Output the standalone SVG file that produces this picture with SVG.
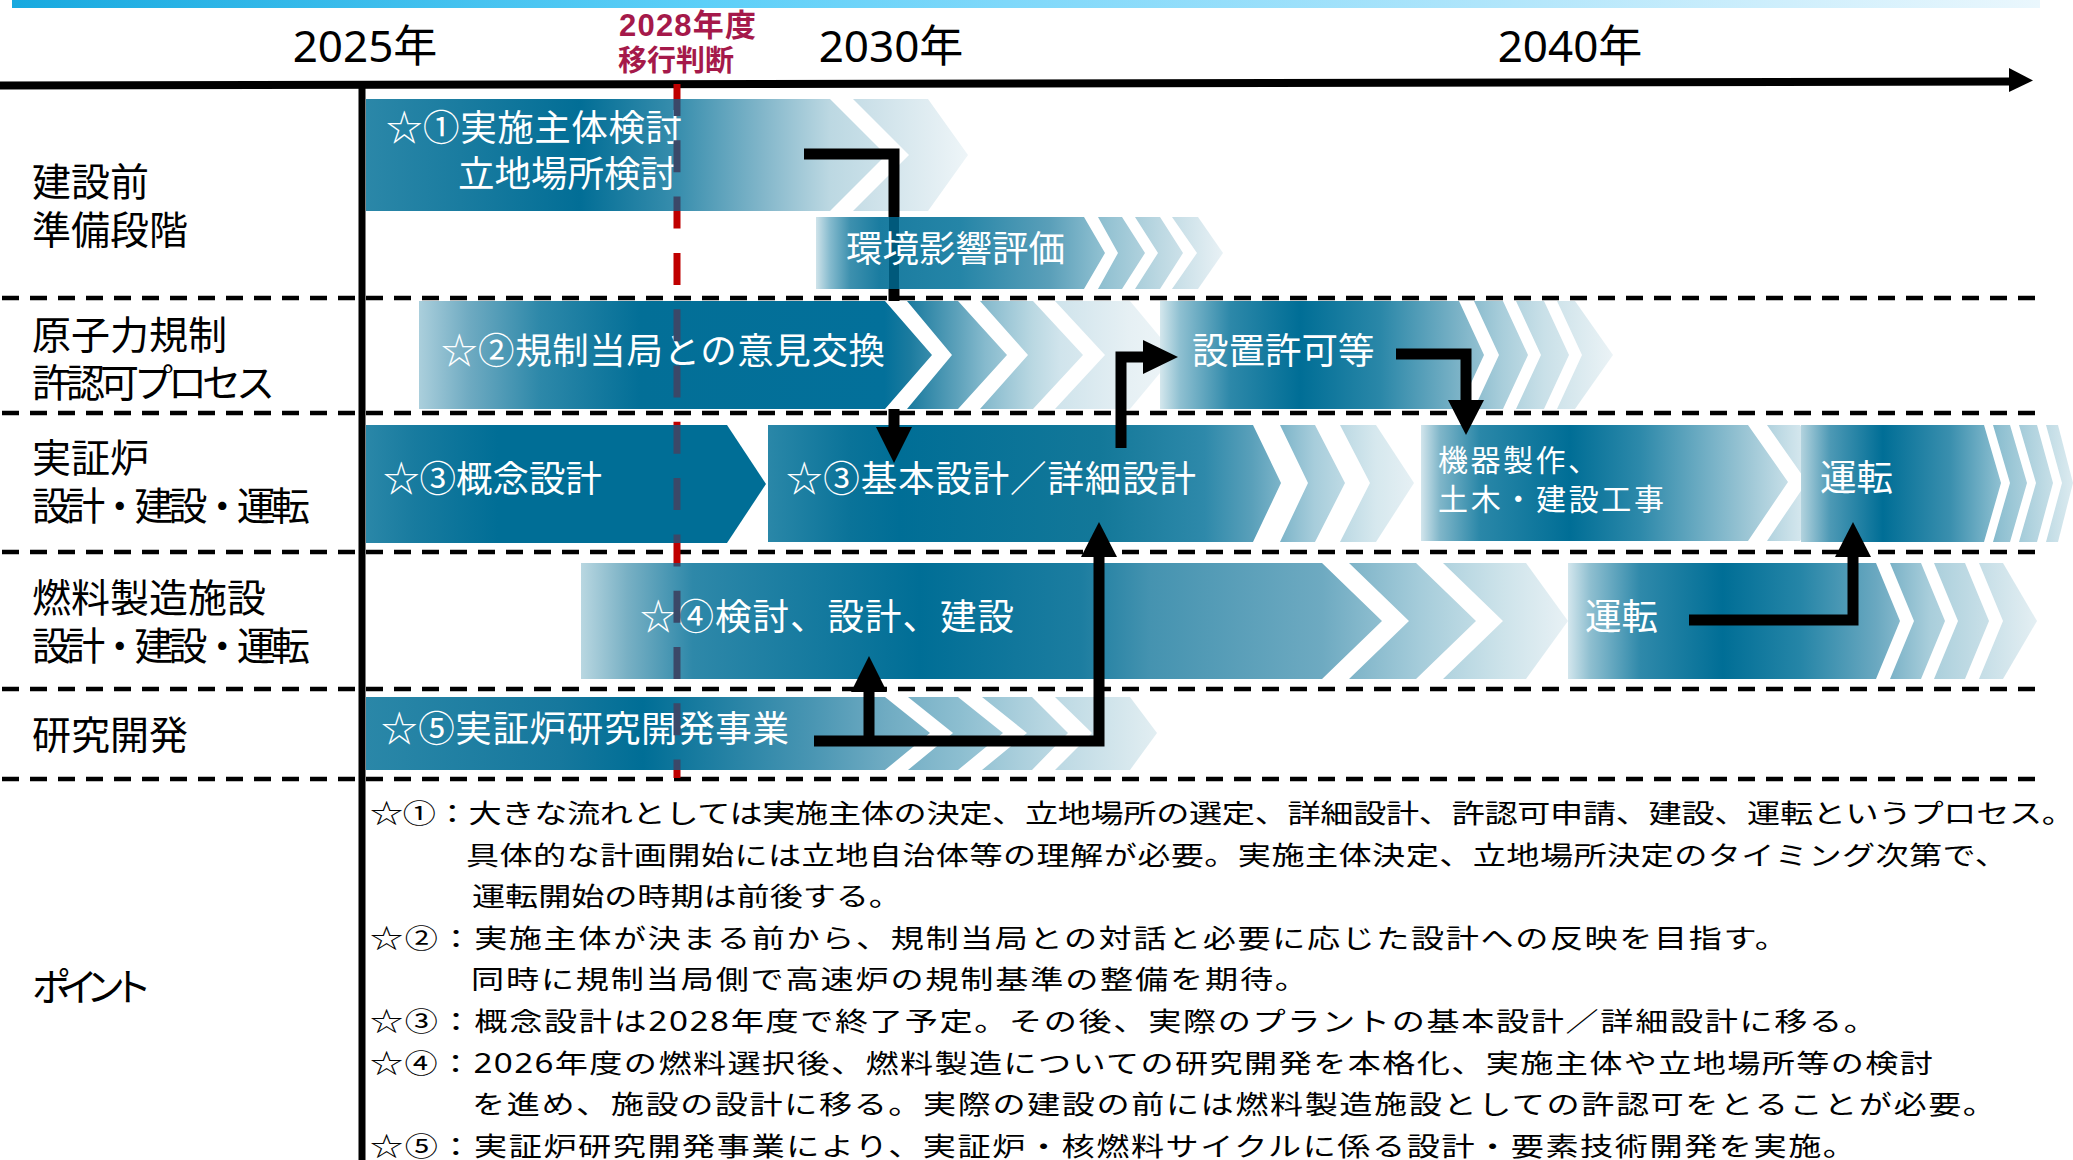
<svg xmlns="http://www.w3.org/2000/svg" width="2073" height="1160" viewBox="0 0 2073 1160">
<defs>
<style>
text{font-family:"Noto Sans","Noto Sans CJK JP",sans-serif}
.yr{font-size:44px;fill:#000}
.lbl{font-size:39px;fill:#000}
.bt{font-size:36.5px;fill:#fff}
.bs{font-size:30px;fill:#fff}
.nt{font-size:26.5px;fill:#000}
.red{fill:#A5194A;font-weight:bold;font-family:"Liberation Sans","Noto Sans CJK JP",sans-serif}
.sep{stroke:#000;stroke-width:4.5;stroke-dasharray:17 11;fill:none}
.stripe{fill:#fff}
.conn{fill:none;stroke:#000;stroke-width:11;stroke-linejoin:miter}
.head{fill:#000}
</style>
<linearGradient id="gTop" gradientUnits="userSpaceOnUse" x1="12" y1="0" x2="2040" y2="0">
<stop offset="0" stop-color="#18a9df"/><stop offset="0.34" stop-color="#5ccff8"/><stop offset="0.49" stop-color="#7fd8fa"/><stop offset="0.74" stop-color="#b2e6fb"/><stop offset="1" stop-color="#eaf7fd"/>
</linearGradient>
<linearGradient id="g1" gradientUnits="userSpaceOnUse" x1="366" y1="0" x2="886" y2="0">
<stop offset="0" stop-color="#2b87a8"/><stop offset="0.181" stop-color="#1a7ca0"/><stop offset="0.412" stop-color="#026e96"/><stop offset="0.604" stop-color="#3a8fae"/><stop offset="0.758" stop-color="#80b5c9"/><stop offset="0.892" stop-color="#bcd8e2"/><stop offset="1" stop-color="#cde2ea"/>
</linearGradient>
<linearGradient id="g1b" gradientUnits="userSpaceOnUse" x1="853" y1="0" x2="968" y2="0">
<stop offset="0" stop-color="#c6dde6"/><stop offset="1" stop-color="#eef5f8"/>
</linearGradient>
<linearGradient id="gEnv" gradientUnits="userSpaceOnUse" x1="816" y1="0" x2="1223" y2="0">
<stop offset="0" stop-color="#cfe3ea"/><stop offset="0.034" stop-color="#86bbce"/><stop offset="0.084" stop-color="#3d90ae"/><stop offset="0.157" stop-color="#1a7ca0"/><stop offset="0.354" stop-color="#2585a7"/><stop offset="0.575" stop-color="#5a9fb9"/><stop offset="0.698" stop-color="#8ebfd0"/><stop offset="0.845" stop-color="#bcd8e2"/><stop offset="1" stop-color="#e8f1f5"/>
</linearGradient>
<linearGradient id="g2" gradientUnits="userSpaceOnUse" x1="419" y1="0" x2="1175" y2="0">
<stop offset="0" stop-color="#abcfdc"/><stop offset="0.067" stop-color="#6eaac1"/><stop offset="0.16" stop-color="#2d88a9"/><stop offset="0.292" stop-color="#036f97"/><stop offset="0.616" stop-color="#03709a"/><stop offset="0.649" stop-color="#1b7b9f"/><stop offset="0.713" stop-color="#5ea2bb"/><stop offset="0.749" stop-color="#86bacd"/><stop offset="0.812" stop-color="#bad8e2"/><stop offset="0.848" stop-color="#d0e4ec"/><stop offset="0.94" stop-color="#e6f0f4"/><stop offset="1" stop-color="#eef5f8"/>
</linearGradient>
<linearGradient id="gPermit" gradientUnits="userSpaceOnUse" x1="1160" y1="0" x2="1613" y2="0">
<stop offset="0" stop-color="#d4e7ed"/><stop offset="0.044" stop-color="#8fc0d1"/><stop offset="0.155" stop-color="#2d88a9"/><stop offset="0.309" stop-color="#006e96"/><stop offset="0.486" stop-color="#2a87a8"/><stop offset="0.66" stop-color="#7cb3c7"/><stop offset="0.757" stop-color="#a9cedb"/><stop offset="0.848" stop-color="#c9e0e8"/><stop offset="1" stop-color="#ebf3f6"/>
</linearGradient>
<linearGradient id="g3a" gradientUnits="userSpaceOnUse" x1="366" y1="0" x2="766" y2="0">
<stop offset="0" stop-color="#2a87a8"/><stop offset="0.12" stop-color="#187b9f"/><stop offset="0.33" stop-color="#006e96"/><stop offset="1" stop-color="#006e96"/>
</linearGradient>
<linearGradient id="g3b" gradientUnits="userSpaceOnUse" x1="768" y1="0" x2="1414" y2="0">
<stop offset="0" stop-color="#2a87a8"/><stop offset="0.127" stop-color="#0a7399"/><stop offset="0.204" stop-color="#006e96"/><stop offset="0.514" stop-color="#137899"/><stop offset="0.676" stop-color="#2e89aa"/><stop offset="0.75" stop-color="#5aa0ba"/><stop offset="0.846" stop-color="#a7cddb"/><stop offset="0.941" stop-color="#d6e8ee"/><stop offset="1" stop-color="#e6f0f4"/>
</linearGradient>
<linearGradient id="gFab" gradientUnits="userSpaceOnUse" x1="1421" y1="0" x2="1840" y2="0">
<stop offset="0" stop-color="#d2e5ec"/><stop offset="0.045" stop-color="#80b6c9"/><stop offset="0.141" stop-color="#2a87a8"/><stop offset="0.356" stop-color="#006e96"/><stop offset="0.523" stop-color="#2d89aa"/><stop offset="0.778" stop-color="#9cc6d5"/><stop offset="0.905" stop-color="#d3e6ed"/><stop offset="1" stop-color="#e8f1f5"/>
</linearGradient>
<linearGradient id="gOp3" gradientUnits="userSpaceOnUse" x1="1801" y1="0" x2="2073" y2="0">
<stop offset="0" stop-color="#b3d3de"/><stop offset="0.107" stop-color="#4d99b5"/><stop offset="0.301" stop-color="#006e96"/><stop offset="0.548" stop-color="#3a8fae"/><stop offset="0.732" stop-color="#8fc0d1"/><stop offset="1" stop-color="#dcebf0"/>
</linearGradient>
<linearGradient id="g4" gradientUnits="userSpaceOnUse" x1="581" y1="0" x2="1568" y2="0">
<stop offset="0" stop-color="#b9d7e1"/><stop offset="0.047" stop-color="#78b0c4"/><stop offset="0.113" stop-color="#2e88a9"/><stop offset="0.343" stop-color="#006e96"/><stop offset="0.506" stop-color="#1c7da0"/><stop offset="0.577" stop-color="#4593b0"/><stop offset="0.751" stop-color="#6eaac1"/><stop offset="0.85" stop-color="#a5ccda"/><stop offset="0.934" stop-color="#cde3ea"/><stop offset="1" stop-color="#e8f1f5"/>
</linearGradient>
<linearGradient id="gOp4" gradientUnits="userSpaceOnUse" x1="1568" y1="0" x2="2037" y2="0">
<stop offset="0" stop-color="#d3e6ed"/><stop offset="0.047" stop-color="#8fbfd0"/><stop offset="0.154" stop-color="#2f89aa"/><stop offset="0.33" stop-color="#006e96"/><stop offset="0.495" stop-color="#2585a7"/><stop offset="0.657" stop-color="#6aa8c0"/><stop offset="0.772" stop-color="#a9cedb"/><stop offset="1" stop-color="#e4eff3"/>
</linearGradient>
<linearGradient id="g5" gradientUnits="userSpaceOnUse" x1="366" y1="0" x2="1157" y2="0">
<stop offset="0" stop-color="#2a87a8"/><stop offset="0.245" stop-color="#16789d"/><stop offset="0.35" stop-color="#006e96"/><stop offset="0.566" stop-color="#4a96b3"/><stop offset="0.656" stop-color="#6fabc2"/><stop offset="0.75" stop-color="#8cbed0"/><stop offset="0.864" stop-color="#b9d7e2"/><stop offset="1" stop-color="#e2eef2"/>
</linearGradient>
<clipPath id="inBars">
<rect x="660" y="99" width="40" height="112"/>
<rect x="660" y="301" width="40" height="108"/>
<rect x="660" y="425" width="40" height="118"/>
<rect x="660" y="563" width="40" height="116"/>
<rect x="660" y="697" width="40" height="73"/>
</clipPath>
</defs>

<rect x="0" y="0" width="2073" height="1160" fill="#fff"/>

<g id="header">
<rect x="12" y="0" width="2028" height="8" fill="url(#gTop)"/>
<line x1="0" y1="85.5" x2="2012" y2="81.5" stroke="#000" stroke-width="8"/>
<polygon points="2009,68 2033,80.5 2009,92" fill="#000"/>
<text class="yr" x="365" y="62" text-anchor="middle">2025年</text>
<text class="yr" x="891" y="62" text-anchor="middle">2030年</text>
<text class="yr" x="1570" y="62" text-anchor="middle">2040年</text>
<text class="red" x="619" y="36" font-size="31" textLength="137">2028年度</text>
<text class="red" x="618" y="71" font-size="29">移行判断</text>
</g>

<g id="grid">
<line class="sep" x1="2" y1="298" x2="2036" y2="298"/>
<line class="sep" x1="2" y1="413" x2="2036" y2="413"/>
<line class="sep" x1="2" y1="552" x2="2036" y2="552"/>
<line class="sep" x1="2" y1="689" x2="2036" y2="689"/>
<line class="sep" x1="2" y1="779" x2="2036" y2="779"/>
<line x1="362" y1="86" x2="362" y2="1160" stroke="#000" stroke-width="7"/>
</g>

<g id="decision-line">
<line x1="677" y1="84" x2="677" y2="778" stroke="#c00000" stroke-width="7" stroke-dasharray="32 24.3"/>
</g>

<g id="bar1">
<polygon points="366,99 830,99 886,155 830,211 366,211" fill="url(#g1)"/>
<polygon points="853,99 928,99 968,155 928,211 853,211 909,155" fill="url(#g1b)"/>
<text class="bt" x="386" y="141" textLength="296">☆①実施主体検討</text>
<text class="bt" x="458" y="187">立地場所検討</text>
</g>

<g id="env">
<polygon points="816,217 1198,217 1223,253 1198,289 816,289" fill="url(#gEnv)"/>
<polygon class="stripe" points="1084,217 1098,217 1118,253 1098,289 1084,289 1105,253"/>
<polygon class="stripe" points="1122,217 1135,217 1158,253 1135,289 1122,289 1145,253"/>
<polygon class="stripe" points="1160,217 1172,217 1197,253 1172,289 1160,289 1183,253"/>
<rect x="889" y="217" width="10" height="72" fill="#00597b"/>
<text class="bt" x="846" y="262">環境影響評価</text>
</g>

<g id="bar2">
<polygon points="419,301 1130,301 1175,355 1130,409 419,409" fill="url(#g2)"/>
<polygon class="stripe" points="885,301 907,301 952,355 907,409 885,409 932,355"/>
<polygon class="stripe" points="958,301 980,301 1028,355 980,409 958,409 1007,355"/>
<polygon class="stripe" points="1033,301 1055,301 1105,355 1055,409 1033,409 1083,355"/>
<text class="bt" x="441" y="364" textLength="444">☆②規制当局との意見交換</text>
</g>

<g id="permit">
<polygon points="1160,301 1575,301 1613,355 1575,409 1160,409" fill="url(#gPermit)"/>
<polygon class="stripe" points="1459,301 1474,301 1499,355 1474,409 1459,409 1484,355"/>
<polygon class="stripe" points="1503,301 1516,301 1541,355 1516,409 1503,409 1528,355"/>
<polygon class="stripe" points="1544,301 1557,301 1582,355 1557,409 1544,409 1569,355"/>
<text class="bt" x="1192" y="364">設置許可等</text>
</g>

<g id="bar3-concept">
<polygon points="366,425 727,425 766,484 727,543 366,543" fill="url(#g3a)"/>
<text class="bt" x="383" y="492">☆③概念設計</text>
</g>

<g id="bar3-detail">
<polygon points="768,425 1376,425 1414,483 1376,542 768,542" fill="url(#g3b)"/>
<polygon class="stripe" points="1253,425 1280,425 1308,483 1280,542 1253,542 1281,483"/>
<polygon class="stripe" points="1315,425 1340,425 1370,483 1340,542 1315,542 1345,483"/>
<text class="bt" x="786" y="492" textLength="410">☆③基本設計／詳細設計</text>
</g>

<g id="fabrication">
<polygon points="1421,425 1800,425 1840,482 1800,541 1421,541" fill="url(#gFab)"/>
<polygon class="stripe" points="1748,425 1767,425 1807,482 1767,541 1748,541 1788,482"/>
<text class="bs" x="1438" y="471" textLength="160">機器製作、</text>
<text class="bs" x="1438" y="510" textLength="226">土木・建設工事</text>
</g>

<g id="operation-reactor">
<polygon points="1801,425 2058,425 2073,483 2058,542 1801,542" fill="url(#gOp3)"/>
<polygon class="stripe" points="1984,425 1993,425 2010,483 1993,542 1984,542 2001,483"/>
<polygon class="stripe" points="2010,425 2019,425 2036,483 2019,542 2010,542 2027,483"/>
<polygon class="stripe" points="2037,425 2046,425 2062,483 2046,542 2037,542 2053,483"/>
<text class="bt" x="1820" y="491">運転</text>
</g>

<g id="bar4">
<polygon points="581,563 1526,563 1568,621 1526,679 581,679" fill="url(#g4)"/>
<polygon class="stripe" points="1322,563 1349,563 1409,621 1349,679 1322,679 1382,621"/>
<polygon class="stripe" points="1416,563 1443,563 1503,621 1443,679 1416,679 1476,621"/>
<text class="bt" x="640" y="630" textLength="374">☆④検討、設計、建設</text>
</g>

<g id="operation-fuel">
<polygon points="1568,563 2003,563 2037,621 2003,679 1568,679" fill="url(#gOp4)"/>
<polygon class="stripe" points="1876,563 1890,563 1914,621 1890,679 1876,679 1900,621"/>
<polygon class="stripe" points="1921,563 1934,563 1958,621 1934,679 1921,679 1945,621"/>
<polygon class="stripe" points="1965,563 1979,563 2003,621 1979,679 1965,679 1989,621"/>
<text class="bt" x="1585" y="630">運転</text>
</g>

<g id="bar5">
<polygon points="366,697 1130,697 1157,733 1130,770 366,770" fill="url(#g5)"/>
<polygon class="stripe" points="885,697 908,697 953,733 908,770 885,770 930,733"/>
<polygon class="stripe" points="958,697 982,697 1027,733 982,770 958,770 1003,733"/>
<polygon class="stripe" points="1032,697 1055,697 1092,733 1055,770 1032,770 1068,733"/>
<text class="bt" x="381" y="742" textLength="408">☆⑤実証炉研究開発事業</text>
</g>

<g id="decision-line-overlay" clip-path="url(#inBars)">
<line x1="677" y1="84" x2="677" y2="778" stroke="#3b4868" stroke-width="7" stroke-dasharray="32 24.3"/>
</g>

<g id="connectors">
<path class="conn" d="M804,154 H894 V217 M894,289 V301 M894,409 V430"/>
<polygon class="head" points="876,427 912,427 894,463"/>
<path class="conn" d="M1121,448 V357 H1146"/>
<polygon class="head" points="1143,340 1143,374 1178,357"/>
<path class="conn" d="M1396,354 H1466 V402"/>
<polygon class="head" points="1448,400 1484,400 1466,435"/>
<path class="conn" d="M1689,620 H1853 V556"/>
<polygon class="head" points="1835,557 1871,557 1853,522"/>
<path class="conn" d="M814,741 H1099 V556 M869,741 V690"/>
<polygon class="head" points="1081,557 1117,557 1099,522"/>
<polygon class="head" points="851,692 887,692 869,656"/>
</g>

<g id="row-labels">
<text class="lbl" x="32" y="196">建設前</text>
<text class="lbl" x="32" y="244">準備段階</text>
<text class="lbl" x="32" y="349">原子力規制</text>
<text class="lbl" x="32" y="397" textLength="243">許認可プロセス</text>
<text class="lbl" x="32" y="472">実証炉</text>
<text class="lbl" x="32" y="520" textLength="278">設計・建設・運転</text>
<text class="lbl" x="32" y="612">燃料製造施設</text>
<text class="lbl" x="32" y="660" textLength="278">設計・建設・運転</text>
<text class="lbl" x="32" y="749">研究開発</text>
<text class="lbl" x="32" y="1001" textLength="120">ポイント</text>
</g>

<g id="notes">
<text class="nt" transform="translate(370,823) scale(1.25,1)" textLength="1364">☆①：大きな流れとしては実施主体の決定、立地場所の選定、詳細設計、許認可申請、建設、運転というプロセス。</text>
<text class="nt" transform="translate(466,864.6) scale(1.25,1)" textLength="1233.6">具体的な計画開始には立地自治体等の理解が必要。実施主体決定、立地場所決定のタイミング次第で、</text>
<text class="nt" transform="translate(472,906.2) scale(1.25,1)" textLength="344">運転開始の時期は前後する。</text>
<text class="nt" transform="translate(370,947.8) scale(1.25,1)" textLength="1134.4">☆②：実施主体が決まる前から、規制当局との対話と必要に応じた設計への反映を目指す。</text>
<text class="nt" transform="translate(471,989.4) scale(1.25,1)" textLength="669.6">同時に規制当局側で高速炉の規制基準の整備を期待。</text>
<text class="nt" transform="translate(370,1031) scale(1.25,1)" textLength="1205.6">☆③：概念設計は2028年度で終了予定。その後、実際のプラントの基本設計／詳細設計に移る。</text>
<text class="nt" transform="translate(370,1072.6) scale(1.25,1)" textLength="1250.4">☆④：2026年度の燃料選択後、燃料製造についての研究開発を本格化、実施主体や立地場所等の検討</text>
<text class="nt" transform="translate(472,1114.2) scale(1.25,1)" textLength="1219.2">を進め、施設の設計に移る。実際の建設の前には燃料製造施設としての許認可をとることが必要。</text>
<text class="nt" transform="translate(370,1155.8) scale(1.25,1)" textLength="1188.8">☆⑤：実証炉研究開発事業により、実証炉・核燃料サイクルに係る設計・要素技術開発を実施。</text>
</g>
</svg>
